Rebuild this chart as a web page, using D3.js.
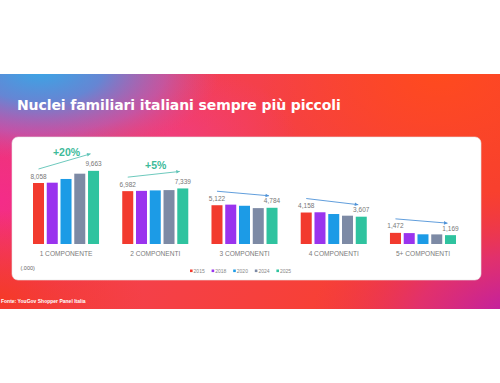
<!DOCTYPE html>
<html>
<head>
<meta charset="utf-8">
<script src="https://cdn.jsdelivr.net/npm/d3@7"></script>
<style>
  body { margin: 0; background: #fff; }
  svg { display: block; font-family: "Liberation Sans", Arial, sans-serif; }
</style>
</head>
<body>
<svg id="chart" width="500" height="383"></svg>
<script>
// dati (migliaia di famiglie)
const categories = ["1 COMPONENTE", "2 COMPONENTI", "3 COMPONENTI", "4 COMPONENTI", "5+ COMPONENTI"];
const years = ["2015", "2018", "2020", "2024", "2025"];
const v2015 = [8058, 6982, 5122, 4158, 1472];
const v2018 = [8100, 7020, 5200, 4190, 1440];
const v2020 = [8590, 7080, 5050, 3960, 1280];
const v2024 = [9290, 7120, 4740, 3740, 1270];
const v2025 = [9663, 7339, 4784, 3607, 1169];
const growth = ["+20%", "+5%", "", "", ""];
const colors = ["#f23a2e", "#9a33ee", "#1c9be6", "#7d8aa5", "#2fc39f"];

const series = [v2015, v2018, v2020, v2024, v2025];
const fmt = d3.format(",");

const svg = d3.select("#chart");
const defs = svg.append("defs");

// sfondo sfumato
const BAND_TOP = 74, BAND_BOT = 309;

const lin = defs.append("linearGradient").attr("id", "base")
  .attr("x1", "0").attr("y1", "0").attr("x2", "1").attr("y2", "0.3");
lin.append("stop").attr("offset", "0").attr("stop-color", "#e8387a");
lin.append("stop").attr("offset", "0.45").attr("stop-color", "#f4404c");
lin.append("stop").attr("offset", "1").attr("stop-color", "#f8402e");

function radial(id, cx, cy, r, stops, sx) {
  const g = defs.append("radialGradient").attr("id", id)
    .attr("gradientUnits", "userSpaceOnUse")
    .attr("cx", cx).attr("cy", cy).attr("r", r)
    .attr("gradientTransform", "translate(" + cx + "," + cy + ") scale(" + sx + ",1) translate(" + (-cx) + "," + (-cy) + ")");
  stops.forEach(s => g.append("stop").attr("offset", s[0]).attr("stop-color", s[1]).attr("stop-opacity", s[2]));
}
radial("blue", 40, 70, 90, [[0, "#39a6e6", 1], [0.35, "#5e8ad9", 0.95], [0.7, "#a865c4", 0.6], [1, "#d050a0", 0]], 2.0);
radial("pink", 0, 200, 110, [[0, "#f52a8c", 0.9], [1, "#f52a8c", 0]], 1.3);
radial("pinkc", 170, 135, 70, [[0, "#f03c8c", 0.7], [1, "#f03c8c", 0]], 1.8);
radial("redl", 0, 300, 90, [[0, "#f53a28", 1], [1, "#f53a28", 0]], 1.6);
radial("mag", 520, 320, 130, [[0, "#b81bb0", 1], [0.5, "#d82a86", 0.7], [1, "#e8305a", 0]], 1.6);
radial("orng", 440, 74, 120, [[0, "#ff4a1e", 1], [1, "#ff4a1e", 0]], 1.5);

const bg = svg.append("g");
["url(#base)", "url(#orng)", "url(#pinkc)", "url(#pink)", "url(#redl)", "url(#mag)", "url(#blue)"].forEach(f => {
  bg.append("rect").attr("x", 0).attr("y", BAND_TOP).attr("width", 500)
    .attr("height", BAND_BOT - BAND_TOP).attr("fill", f);
});

// titolo
svg.append("text")
  .attr("x", 17).attr("y", 110)
  .attr("fill", "#fff")
  .style("font-size", "14px").style("font-weight", "900")
  .style("font-family", "'DejaVu Sans', sans-serif")
  .style("letter-spacing", "-0.1px")
  .text("Nuclei familiari italiani sempre più piccoli");

// fonte
svg.append("text")
  .attr("x", 1).attr("y", 302.5)
  .attr("fill", "#fff")
  .style("font-size", "5px").style("font-weight", "bold")
  .text("Fonte: YouGov Shopper Panel Italia");

// card bianca
svg.append("rect")
  .attr("x", 12).attr("y", 137).attr("width", 469).attr("height", 143)
  .attr("rx", 6).attr("fill", "#fff")
  .attr("stroke", "#e6e6e6").attr("stroke-width", 0.6);

// scale
const x0 = d3.scaleBand().domain(categories).range([33, 456]).paddingInner(0.26);
const x1 = d3.scaleBand().domain(years).range([0, x0.bandwidth()]).paddingInner(0.2);
const y = d3.scaleLinear().domain([0, 10000]).range([244, 168.3]);

const groups = svg.append("g").selectAll("g")
  .data(categories)
  .join("g")
  .attr("transform", d => "translate(" + x0(d) + ",0)");

groups.selectAll("rect")
  .data((d, i) => years.map((yr, j) => ({ yr: yr, j: j, v: series[j][i] })))
  .join("rect")
  .attr("x", d => x1(d.yr))
  .attr("y", d => y(d.v))
  .attr("width", x1.bandwidth())
  .attr("height", d => y(0) - y(d.v))
  .attr("fill", d => colors[d.j]);

// etichette valori (primo e ultimo anno)
groups.each(function(c, i) {
  const g = d3.select(this);
  const first = years[0], last = years[years.length - 1];
  [[first, v2015[i]], [last, v2025[i]]].forEach(p => {
    g.append("text")
      .attr("x", x1(p[0]) + x1.bandwidth() / 2)
      .attr("y", y(p[1]) - 4.5)
      .attr("text-anchor", "middle")
      .attr("fill", "#777")
      .style("font-size", "6.5px")
      .text(fmt(p[1]));
  });

  // freccia di tendenza
  const up = v2025[i] > v2015[i];
  const col = up ? "#5cc3b6" : "#4f93d8";
  const xa = x1(first) + x1.bandwidth() / 2;
  const xb = x1(last) + x1.bandwidth() / 2 - 3;
  const ya = y(v2015[i]) - 14;
  const yb = y(v2025[i]) - (up ? 17 : 12);
  g.append("line")
    .attr("x1", xa).attr("y1", ya).attr("x2", xb).attr("y2", yb)
    .attr("stroke", col).attr("stroke-width", 0.9);
  const ang = Math.atan2(yb - ya, xb - xa) * 180 / Math.PI;
  g.append("path")
    .attr("d", "M0,0 L-3.5,-1.8 L-3.5,1.8 Z")
    .attr("fill", col)
    .attr("transform", "translate(" + xb + "," + yb + ") rotate(" + ang + ")");

  if (growth[i]) {
    g.append("text")
      .attr("x", (xa + xb) / 2 + 2)
      .attr("y", (ya + yb) / 2 - 5.5)
      .attr("text-anchor", "middle")
      .attr("fill", "#3dba9a")
      .style("font-size", "10.5px").style("font-weight", "bold")
      .text(growth[i]);
  }
});

// etichette categorie
svg.append("g").selectAll("text")
  .data(categories)
  .join("text")
  .attr("x", d => x0(d) + x0.bandwidth() / 2)
  .attr("y", 255.5)
  .attr("text-anchor", "middle")
  .attr("fill", "#7a7a7a")
  .style("font-size", "6.6px")
  .text(d => d);

// unità
svg.append("text")
  .attr("x", 20.5).attr("y", 270)
  .attr("fill", "#666")
  .style("font-size", "5.5px")
  .text("(.000)");

// legenda
const legend = svg.append("g").attr("transform", "translate(190,271)");
const lx = d3.scaleBand().domain(years).range([0, 108]);
const li = legend.selectAll("g").data(years).join("g")
  .attr("transform", d => "translate(" + lx(d) + ",0)");
li.append("rect").attr("x", 0).attr("y", -1.5).attr("width", 2.6).attr("height", 2.6)
  .attr("fill", (d, i) => colors[i]);
li.append("text").attr("x", 3.6).attr("y", 1.8)
  .attr("fill", "#888").style("font-size", "5px")
  .text(d => d);
</script>
</body>
</html>
